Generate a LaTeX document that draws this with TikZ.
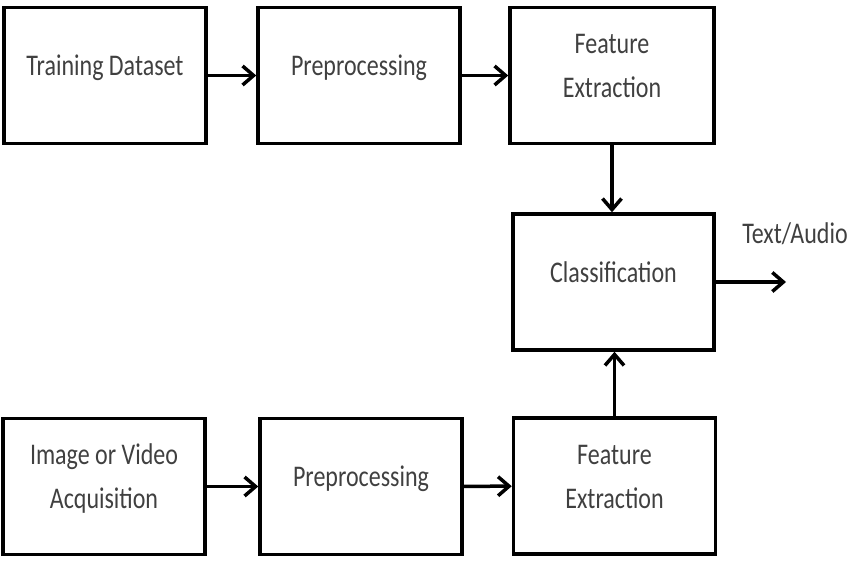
\documentclass[tikz,border=0pt]{standalone}
\usepackage{fontspec}
\newfontfamily\diagfont[FakeStretch=0.8]{Carlito}
\usetikzlibrary{arrows.meta}
\newcommand\oneline[1]{\smash{#1}}
\newcommand\twolines[2]{\smash{\raisebox{22pt}{\begin{tabular}[t]{@{}c@{}}#1\\#2\end{tabular}}}}
\begin{document}
\begin{tikzpicture}[x=1pt,y=-1pt,
  blockbox/.style={draw=black,line width=3.5pt,minimum width=202pt,minimum height=136pt,inner sep=0pt,
    font=\diagfont\fontsize{30}{44}\selectfont,text=black!75},
  flow/.style={line width=3.5pt,-{Straight Barb[length=11pt,width=19pt]}},
  outlabel/.style={font=\diagfont\fontsize{30}{44}\selectfont,text=black!75,inner sep=0pt}]
\useasboundingbox (0,0) rectangle (850,561);
\node[blockbox] (train) at (105,75.5) {\oneline{Training Dataset}};
\node[blockbox] (pretop) at (359,75.5) {\oneline{Preprocessing}};
\node[blockbox,minimum width=204pt] (fetop) at (612,75.5) {\twolines{Feature}{Extraction}};
\node[blockbox,minimum width=201pt] (class) at (613.5,282) {\oneline{Classification}};
\node[blockbox] (acq) at (104,486.5) {\twolines{Image or Video}{Acquisition}};
\node[blockbox] (prebot) at (361,486.5) {\oneline{Preprocessing}};
\node[blockbox] (febot) at (614.5,486) {\twolines{Feature}{Extraction}};
\coordinate (out) at (786,282);
\node[outlabel] (txt) at (795,243) {\oneline{Text/Audio}};
\draw[flow] (train) -- (pretop);
\draw[flow] (pretop) -- (fetop);
\draw[flow] (fetop.south) -- (fetop.south |- class.north);
\draw[flow] (acq) -- (prebot);
\draw[flow] (prebot) -- (febot);
\draw[flow] (febot.north) -- (febot.north |- class.south);
\draw[flow] (class.east) -- (out);
\end{tikzpicture}
\end{document}
